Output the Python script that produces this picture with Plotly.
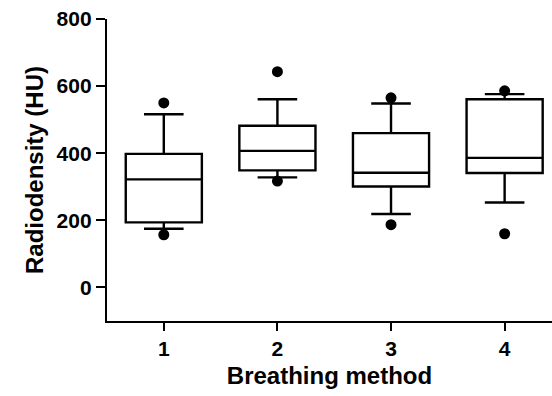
import plotly.graph_objects as go

methods = [1, 2, 3, 4]
q1 = [194, 349, 301, 341]
median = [322, 407, 342, 386]
q3 = [398, 482, 460, 561]
lower_whisker = [175, 328, 219, 253]
upper_whisker = [516, 561, 548, 576]
outliers_low = [157, 317, 187, 160]
outliers_high = [550, 643, 565, 586]

y_ticks = [0, 200, 400, 600, 800]

FONT = "Liberation Sans, Arial, Helvetica, sans-serif"

fig = go.Figure()
fig.add_trace(go.Box(
    x=methods, q1=q1, median=median, q3=q3,
    lowerfence=lower_whisker, upperfence=upper_whisker,
    fillcolor="white", line=dict(color="black", width=2.4),
    width=0.67, whiskerwidth=0.52, boxpoints=False, showlegend=False,
))
fig.add_trace(go.Scatter(
    x=methods + methods, y=outliers_low + outliers_high, mode="markers",
    marker=dict(color="black", size=11), showlegend=False,
))

fig.update_layout(
    width=552, height=396,
    margin=dict(l=107, r=0, t=19, b=75),
    paper_bgcolor="white", plot_bgcolor="white",
    font=dict(family=FONT, color="black"),
    showlegend=False,
)
fig.update_xaxes(
    range=[0.5, 4.417], tickvals=methods, ticktext=[str(m) for m in methods],
    showgrid=False, zeroline=False, showline=True, linecolor="black", linewidth=2.4,
    ticks="outside", ticklen=8, tickwidth=2.2, tickcolor="black",
    tickfont=dict(size=21, weight="bold", family=FONT, color="black"),
    title=dict(text="Breathing method", font=dict(size=24, weight="bold", family=FONT, color="black"), standoff=8),
)
fig.update_yaxes(
    range=[-100, 800], tickvals=y_ticks,
    showgrid=False, zeroline=False, showline=True, linecolor="black", linewidth=2.4,
    ticks="outside", ticklen=9, tickwidth=2.2, tickcolor="black",
    tickfont=dict(size=21, weight="bold", family=FONT, color="black"),
    title=dict(text="Radiodensity (HU)", font=dict(size=24, weight="bold", family=FONT, color="black"), standoff=6),
)

fig.write_html(
    "out.html",
    config={"displayModeBar": False},
    post_script="document.body.style.margin='0';document.body.style.padding='0';",
)
